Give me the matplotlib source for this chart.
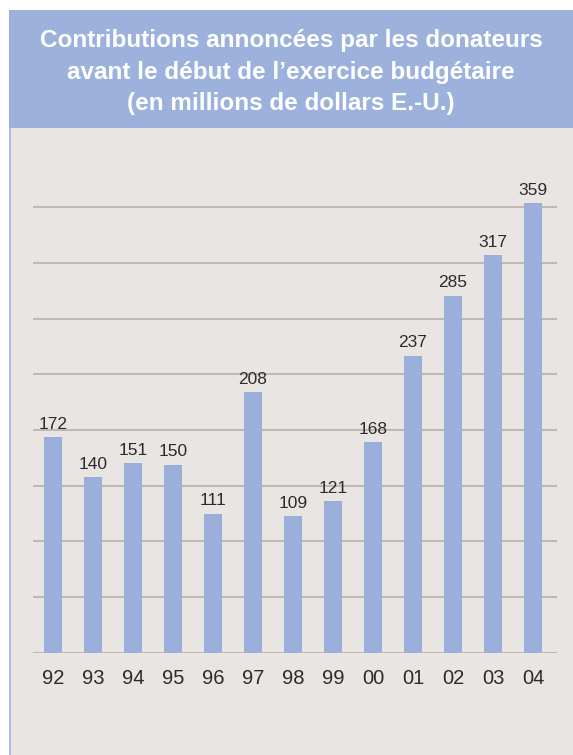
import matplotlib.pyplot as plt
from matplotlib.patches import Rectangle
from matplotlib.lines import Line2D
import numpy as np

years = ['92', '93', '94', '95', '96', '97', '98', '99', '00', '01', '02', '03', '04']
contributions = [172, 140, 151, 150, 111, 208, 109, 121, 168, 237, 285, 317, 359]
title = ("Contributions annoncées par les donateurs\n"
         "avant le début de l\u2019exercice budgétaire\n"
         "(en millions de dollars E.-U.)")

W, H = 573, 755
band_blue = '#9cb1db'
bar_blue = '#9ab0da'
panel = '#e9e5e2'
grid_col = '#c2b8b1'
text_col = '#2b2b2b'

fig = plt.figure(figsize=(W / 100, H / 100), dpi=100)
fig.patch.set_facecolor('white')

# title band and panel (pixel coords from top-left)
def px(x, y):
    return x / W, 1 - y / H

fig.patches.append(Rectangle(px(9, 128), (W - 9) / W, (128 - 10) / H,
                             transform=fig.transFigure, facecolor=band_blue,
                             edgecolor='none', zorder=-10))
fig.patches.append(Rectangle(px(10, H), (W - 10) / W, (H - 128) / H,
                             transform=fig.transFigure, facecolor=panel,
                             edgecolor='none', zorder=-10))
fig.lines.append(Line2D([9.5 / W, 9.5 / W], [0, 1 - 128 / H],
                        transform=fig.transFigure, color=band_blue, lw=1.2,
                        zorder=-9))

fig.text(291 / W, 1 - 72 / H, title, ha='center', va='center',
         color='white', fontsize=17.5, fontweight='bold', linespacing=1.45,
         family=['Liberation Sans Narrow', 'Liberation Sans', 'DejaVu Sans'])

# axes: baseline at y=652.7px, 1.253 px per unit, bars 40px apart
ymax = 400
base = 652.7
top = base - ymax * 1.253
ax = fig.add_axes([33 / W, (H - base) / H, (557 - 33) / W, (base - top) / H])
ax.set_facecolor('none')
x = np.arange(len(years))
ax.bar(x, contributions, width=0.45, color=bar_blue, zorder=2)
ax.set_xlim(-0.5, 12.6)
ax.set_ylim(0, ymax)
ax.set_yticks(np.arange(0, 9) * ymax / 9)
ax.yaxis.grid(True, color=grid_col, lw=1.5)
ax.set_axisbelow(True)
for s in ax.spines.values():
    s.set_visible(False)
ax.tick_params(axis='y', left=False, labelleft=False)
ax.set_xticks(x)
ax.set_xticklabels(years, fontsize=14.5, color=text_col, family='Liberation Sans')
ax.tick_params(axis='x', length=0, pad=12)

for xi, v in zip(x, contributions):
    ax.annotate(str(v), (xi, v), xytext=(0, 6), textcoords='offset points',
                ha='center', va='baseline', fontsize=12.5, color=text_col,
                family='Liberation Sans', clip_on=False)

fig.savefig('out.png', dpi=100)
